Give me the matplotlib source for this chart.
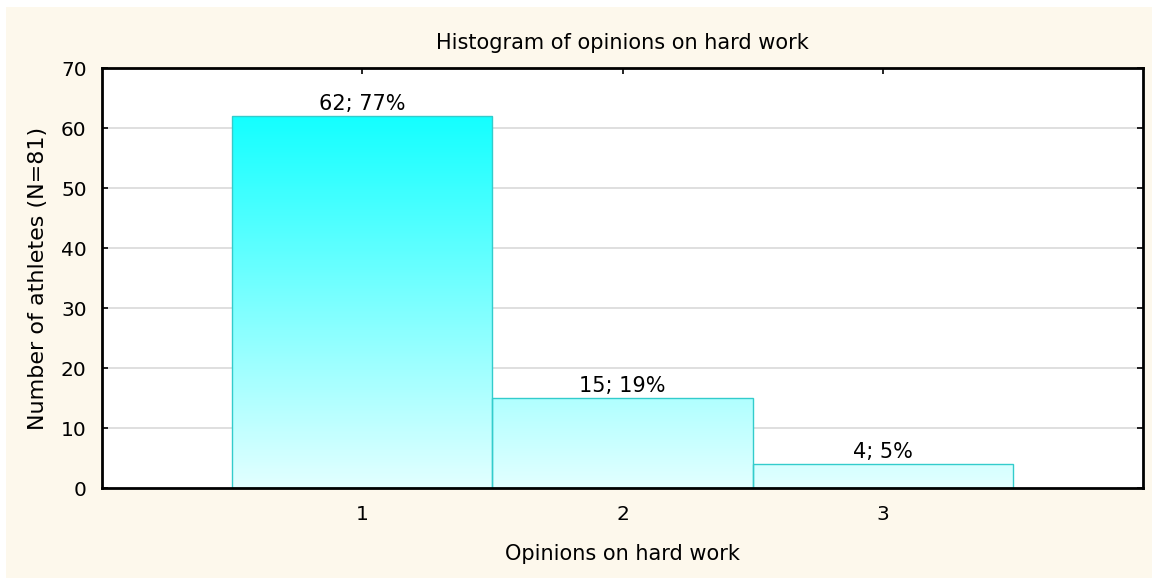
import numpy as np
import matplotlib
matplotlib.use('Agg')
import matplotlib.pyplot as plt
from matplotlib.colors import LinearSegmentedColormap
from matplotlib.patches import Rectangle

# Data
categories = [1, 2, 3]
counts = [62, 15, 4]
percents = [77, 19, 5]
n_total = 81

plt.rcParams['font.family'] = ['DejaVu Sans']

fig = plt.figure(figsize=(11.52, 5.78), dpi=100)
fig.patch.set_facecolor('white')
# cream panel behind the chart
fig.patches.append(Rectangle((6 / 1152, 0), 1 - 6 / 1152, 1 - 7 / 578,
                             transform=fig.transFigure, facecolor='#fdf8ec',
                             edgecolor='none', zorder=-10))

ax = fig.add_axes([102 / 1152, 1 - 488 / 578, (1143 - 102) / 1152, (488 - 68) / 578])
ax.set_facecolor('white')

# gradient fill: pale at zero, full cyan towards the top of the scale
cmap = LinearSegmentedColormap.from_list('cyanfade', ['#e2ffff', '#00ffff'])
for x, h in zip(categories, counts):
    grad = np.linspace(0, h, 256).reshape(-1, 1)
    ax.imshow(grad, extent=(x - 0.5, x + 0.5, 0, h), origin='lower',
              aspect='auto', cmap=cmap, vmin=0, vmax=68, zorder=2)
ax.bar(categories, counts, width=1.0, fill=False, edgecolor='#33cccc',
       linewidth=1, zorder=3)

for x, c, p in zip(categories, counts, percents):
    ax.text(x, c + 0.4, f'{c}; {p}%', ha='center', va='bottom', fontsize=15, zorder=4)

ax.set_xlim(0, 4)
ax.set_ylim(0, 70)
ax.set_xticks(categories)
ax.set_yticks(range(0, 71, 10))
for y in range(10, 70, 10):
    ax.axhline(y, color='#d9d9d9', linewidth=1.2, zorder=1)

ax.tick_params(direction='in', length=4, width=1.2, labelsize=14.5,
               top=True, right=True)
ax.tick_params(axis='y', pad=11)
ax.tick_params(axis='x', pad=12)
for s in ax.spines.values():
    s.set_linewidth(2)
    s.set_zorder(5)

ax.set_title('Histogram of opinions on hard work', fontsize=15, pad=14)
ax.set_xlabel('Opinions on hard work', fontsize=15, labelpad=15)
ax.set_ylabel(f'Number of athletes (N={n_total})', fontsize=16, labelpad=9)

fig.savefig('out.png', dpi=100)
